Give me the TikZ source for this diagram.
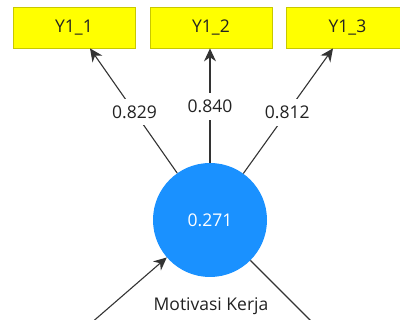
\documentclass[tikz,border=0pt]{standalone}
\usepackage{fontspec}
\setmainfont{Open Sans}
\usetikzlibrary{arrows.meta}
\definecolor{boxfill}{HTML}{FFFF00}
\definecolor{boxline}{HTML}{C8C800}
\definecolor{lvblue}{HTML}{1A91FF}
\definecolor{linec}{HTML}{333333}
\definecolor{txt}{HTML}{222222}
\tikzset{
  indbox/.style={draw=boxline, fill=boxfill, line width=0.8pt, minimum width=122pt, minimum height=41pt, inner sep=0pt, font=\fontsize{17.5}{17.5}\selectfont, text=txt},
  lv/.style={circle, fill=lvblue, minimum size=114pt, inner sep=0pt, text=white, font=\fontsize{17.5}{17.5}\selectfont},
  conn/.style={draw=linec, line width=1.1pt},
  arr/.style={conn, -{Stealth[length=13pt, width=12pt]}},
  wlabel/.style={fill=white, inner xsep=2pt, inner ysep=7pt, text=txt, font=\fontsize{17.5}{17.5}\selectfont},
  lvname/.style={text=txt, font=\fontsize{17.5}{17.5}\selectfont}
}
\begin{document}
\begin{tikzpicture}[x=1pt, y=-1pt]
\useasboundingbox (0,0) rectangle (400,320);
\clip (0,0) rectangle (400,320);
\node[indbox] (b1) at (74,27.5) {Y1\_1};
\node[indbox] (b2) at (211,27.5) {Y1\_2};
\node[indbox] (b3) at (347.5,27.5) {Y1\_3};
\node[lv] (c) at (210,220) {0.271};
\node[lvname] (name) at (211,306) {Motivasi Kerja};
\coordinate (inL) at (60,350);
\coordinate (outR) at (340,350);
\draw[arr] (c) -- ([xshift=16pt]b1.south) node[wlabel, pos=0.49] (l1) {0.829};
\draw[arr] (c) -- ([xshift=-1pt]b2.south) node[wlabel, pos=0.49] (l2) {0.840};
\draw[arr] (c) -- ([xshift=-14.5pt]b3.south) node[wlabel, pos=0.49] (l3) {0.812};
\draw[arr] (inL) -- (c);
\draw[conn] (c) -- (outR);
\end{tikzpicture}
\end{document}
